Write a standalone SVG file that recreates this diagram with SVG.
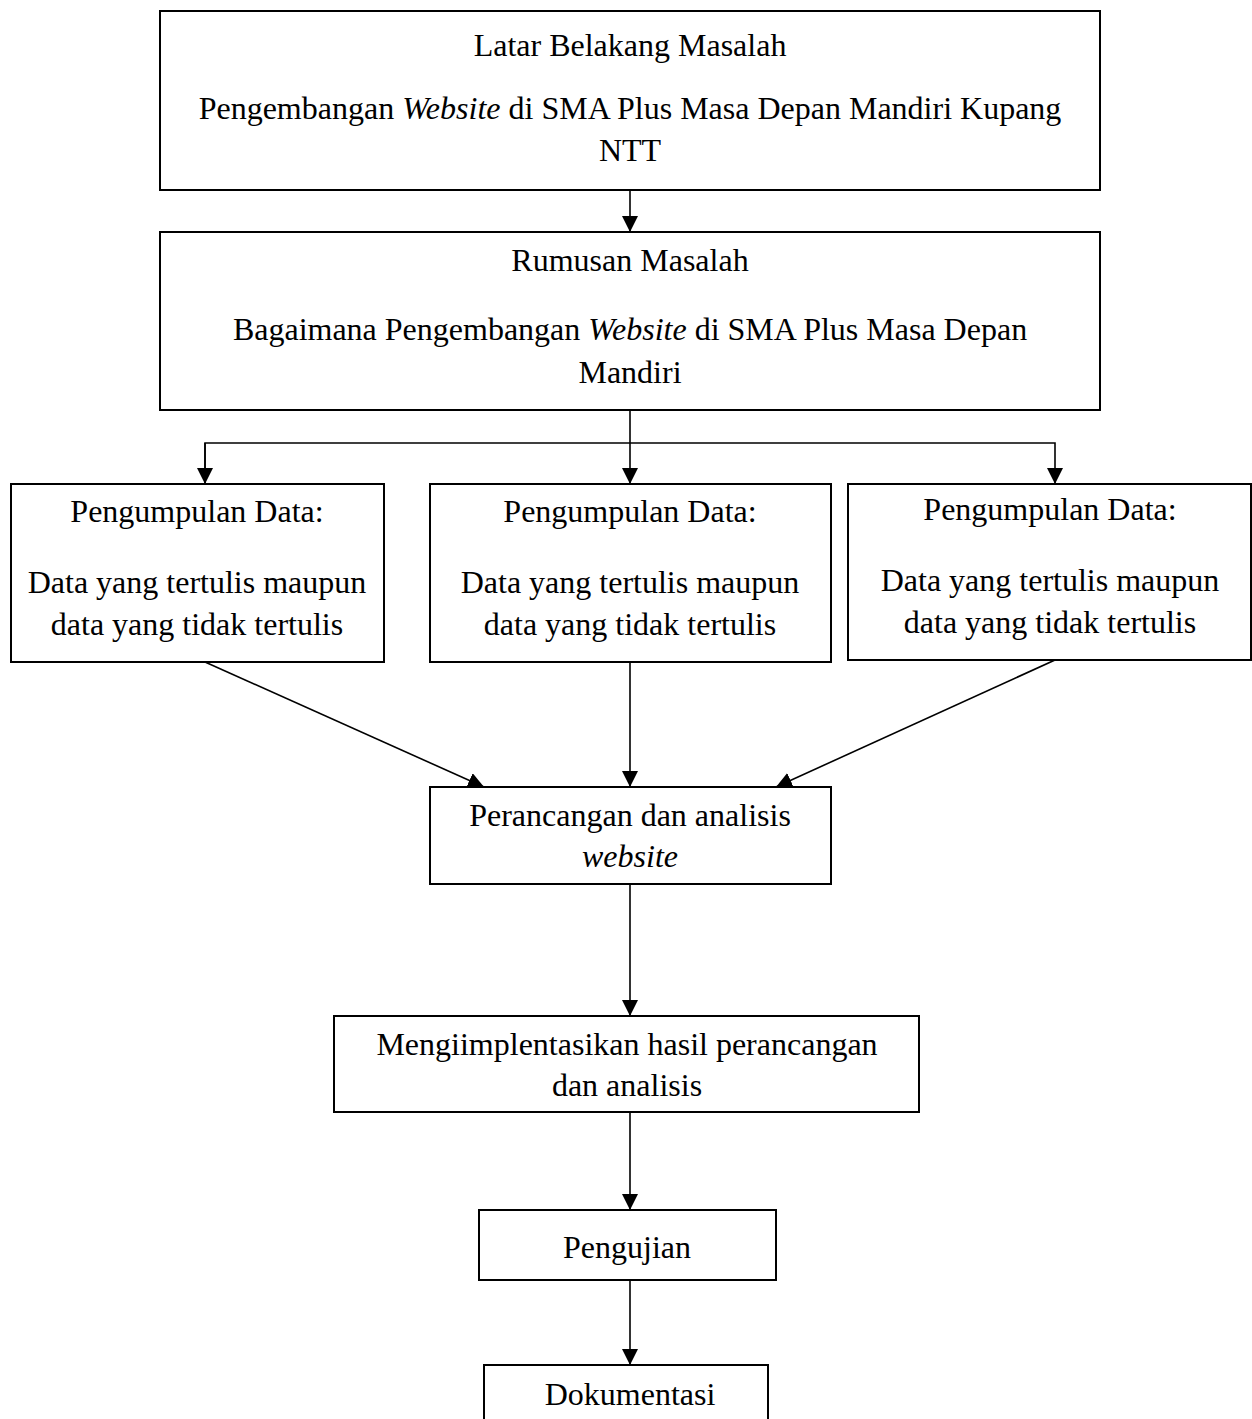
<svg xmlns="http://www.w3.org/2000/svg" width="1252" height="1419" viewBox="0 0 1252 1419">
<style>
.box{fill:#fff;stroke:#000;stroke-width:2}
.t{font-family:"Liberation Serif","Times New Roman",serif;font-size:32px;fill:#000;text-anchor:middle}
.i{font-style:italic}
.c{fill:none;stroke:#000;stroke-width:1.6}
</style>
<defs>
<marker id="ah" markerUnits="userSpaceOnUse" markerWidth="16" markerHeight="16" viewBox="0 0 16 16" refX="16" refY="8" orient="auto">
<path d="M0,0 L16,8 L0,16 Z" fill="#000"/>
</marker>
</defs>
<rect width="1252" height="1419" fill="#fff"/>
<g id="connectors">
<line class="c" x1="630" y1="190" x2="630" y2="232" marker-end="url(#ah)"/>
<line class="c" x1="630" y1="410" x2="630" y2="484" marker-end="url(#ah)"/>
<polyline class="c" points="205,484 205,443 1055,443 1055,484" marker-end="url(#ah)"/>
<line class="c" x1="205" y1="443" x2="205" y2="484" marker-end="url(#ah)"/>
<line class="c" x1="205" y1="662" x2="484" y2="787" marker-end="url(#ah)"/>
<line class="c" x1="630" y1="662" x2="630" y2="787" marker-end="url(#ah)"/>
<line class="c" x1="1055" y1="660" x2="776" y2="787" marker-end="url(#ah)"/>
<line class="c" x1="630" y1="884" x2="630" y2="1016" marker-end="url(#ah)"/>
<line class="c" x1="630" y1="1112" x2="630" y2="1210" marker-end="url(#ah)"/>
<line class="c" x1="630" y1="1280" x2="630" y2="1365" marker-end="url(#ah)"/>
</g>
<g id="latar">
<rect class="box" x="160" y="11" width="940" height="179"/>
<text class="t" x="630" y="56">Latar Belakang Masalah</text>
<text class="t" x="630" y="119">Pengembangan <tspan class="i">Website</tspan> di SMA Plus Masa Depan Mandiri Kupang</text>
<text class="t" x="630" y="161">NTT</text>
</g>
<g id="rumusan">
<rect class="box" x="160" y="232" width="940" height="178"/>
<text class="t" x="630" y="271">Rumusan Masalah</text>
<text class="t" x="630" y="340">Bagaimana Pengembangan <tspan class="i">Website</tspan> di SMA Plus Masa Depan</text>
<text class="t" x="630" y="383">Mandiri</text>
</g>
<g id="data1">
<rect class="box" x="11" y="484" width="373" height="178"/>
<text class="t" x="197" y="522">Pengumpulan Data:</text>
<text class="t" x="197" y="593">Data yang tertulis maupun</text>
<text class="t" x="197" y="635">data yang tidak tertulis</text>
</g>
<g id="data2">
<rect class="box" x="430" y="484" width="401" height="178"/>
<text class="t" x="630" y="522">Pengumpulan Data:</text>
<text class="t" x="630" y="593">Data yang tertulis maupun</text>
<text class="t" x="630" y="635">data yang tidak tertulis</text>
</g>
<g id="data3">
<rect class="box" x="848" y="484" width="403" height="176"/>
<text class="t" x="1050" y="520">Pengumpulan Data:</text>
<text class="t" x="1050" y="591">Data yang tertulis maupun</text>
<text class="t" x="1050" y="633">data yang tidak tertulis</text>
</g>
<g id="perancangan">
<rect class="box" x="430" y="787" width="401" height="97"/>
<text class="t" x="630" y="826">Perancangan dan analisis</text>
<text class="t i" x="630" y="867">website</text>
</g>
<g id="implementasi">
<rect class="box" x="334" y="1016" width="585" height="96"/>
<text class="t" x="627" y="1055">Mengiimplentasikan hasil perancangan</text>
<text class="t" x="627" y="1096">dan analisis</text>
</g>
<g id="pengujian">
<rect class="box" x="479" y="1210" width="297" height="70"/>
<text class="t" x="627" y="1258">Pengujian</text>
</g>
<g id="dokumentasi">
<rect class="box" x="484" y="1365" width="284" height="70"/>
<text class="t" x="630" y="1405">Dokumentasi</text>
</g>
</svg>
